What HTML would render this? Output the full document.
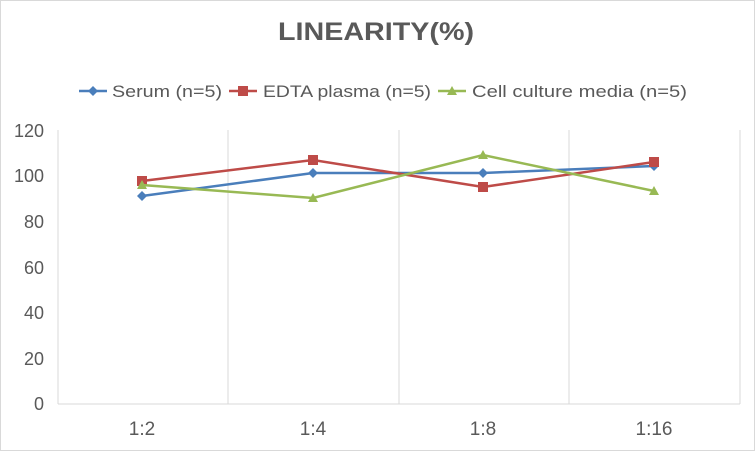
<!DOCTYPE html>
<html><head><style>
body{margin:0;background:#fff}
svg{display:block}
text{font-family:"Liberation Sans",sans-serif}
</style></head><body>
<svg width="755" height="451" viewBox="0 0 755 451">
<rect x="0.5" y="0.5" width="754" height="450" fill="#fff" stroke="#d9d9d9"/>
<text x="278" y="40" font-size="25" font-weight="bold" fill="#595959" textLength="196" lengthAdjust="spacingAndGlyphs">LINEARITY(%)</text>
<g font-size="17" fill="#595959">
<line x1="79" y1="91" x2="107" y2="91" stroke="#4a7ebb" stroke-width="2.5"/><path d="M93 86l5 5-5 5-5-5z" fill="#4a7ebb"/>
<text x="112" y="97" textLength="110" lengthAdjust="spacingAndGlyphs">Serum (n=5)</text>
<line x1="229" y1="91" x2="257" y2="91" stroke="#be4b48" stroke-width="2.5"/><rect x="238" y="86" width="10" height="10" fill="#be4b48"/>
<text x="263" y="97" textLength="168" lengthAdjust="spacingAndGlyphs">EDTA plasma (n=5)</text>
<line x1="438" y1="91" x2="466" y2="91" stroke="#98b954" stroke-width="2.5"/><path d="M452 86l5 9h-10z" fill="#98b954"/>
<text x="472" y="97" textLength="215" lengthAdjust="spacingAndGlyphs">Cell culture media (n=5)</text>
</g>
<g stroke="#d9d9d9" stroke-width="1">
<line x1="58" y1="130" x2="58" y2="404"/><line x1="228" y1="130" x2="228" y2="404"/><line x1="399" y1="130" x2="399" y2="404"/><line x1="569" y1="130" x2="569" y2="404"/><line x1="740" y1="130" x2="740" y2="404"/>
<line x1="58" y1="404" x2="740" y2="404"/>
</g>
<g font-size="18" fill="#595959" text-anchor="end">
<text x="44" y="137">120</text><text x="44" y="182">100</text><text x="44" y="228">80</text><text x="44" y="274">60</text><text x="44" y="319">40</text><text x="44" y="365">20</text><text x="44" y="410">0</text>
</g>
<g font-size="19" fill="#595959" text-anchor="middle">
<text x="142" y="435">1:2</text><text x="313" y="435">1:4</text><text x="483" y="435">1:8</text><text x="654" y="435">1:16</text>
</g>
<polyline points="142,196 313,173 483,173 654,166" fill="none" stroke="#4a7ebb" stroke-width="2.5"/>
<g fill="#4a7ebb"><path d="M142 191l5 5-5 5-5-5z"/><path d="M313 168l5 5-5 5-5-5z"/><path d="M483 168l5 5-5 5-5-5z"/><path d="M654 161l5 5-5 5-5-5z"/></g>
<polyline points="142,181 313,160 483,187 654,162" fill="none" stroke="#be4b48" stroke-width="2.5"/>
<g fill="#be4b48"><rect x="137" y="176" width="10" height="10"/><rect x="308" y="155" width="10" height="10"/><rect x="478" y="182" width="10" height="10"/><rect x="649" y="157" width="10" height="10"/></g>
<polyline points="142,185 313,198 483,155 654,191" fill="none" stroke="#98b954" stroke-width="2.5"/>
<g fill="#98b954"><path d="M142 180l5 9h-10z"/><path d="M313 193l5 9h-10z"/><path d="M483 150l5 9h-10z"/><path d="M654 186l5 9h-10z"/></g>
</svg>
</body></html>
